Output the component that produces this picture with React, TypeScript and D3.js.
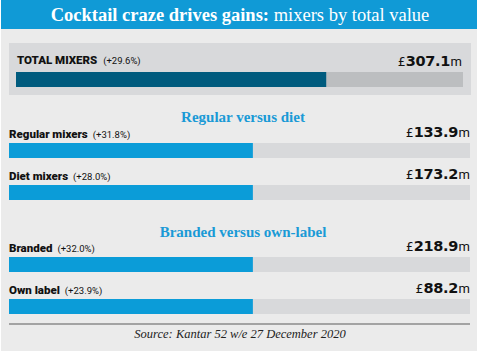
import React from "react";
import * as d3 from "d3";

const titleBold = "Cocktail craze drives gains:";
const titleRegular = "mixers by total value";

const totalLabel = "TOTAL MIXERS";
const totalChange = "+29.6%";
const totalValue = 307.1;
const totalFill = 69.4; // share of track filled (%)

const groupTitles = ["Regular versus diet", "Branded versus own-label"];
const rowGroup = [0, 0, 1, 1];
const rowLabels = ["Regular mixers", "Diet mixers", "Branded", "Own label"];
const rowChanges = ["+31.8%", "+28.0%", "+32.0%", "+23.9%"];
const rowValues = [133.9, 173.2, 218.9, 88.2];
const rowFill = [52.9, 52.9, 52.9, 52.9];

const sourceText = "Source: Kantar 52 w/e 27 December 2020";

const W = 480;
const H = 351;

const SANS = "Roboto, 'Liberation Sans', sans-serif";
const SERIF = "'Liberation Serif', serif";

function Value({ x, y, v }: { x: number; y: number; v: number }) {
  return (
    <text x={x} y={y} textAnchor="end" fill="#111">
      <tspan fontFamily="'DejaVu Sans', sans-serif" fontSize={12.5}>£</tspan>
      <tspan fontFamily="'DejaVu Sans', sans-serif" fontWeight="bold" fontSize={14.5} letterSpacing={-0.3}>
        {d3.format(".1f")(v)}
      </tspan>
      <tspan fontFamily={SANS} fontSize={13} dx={0.5}>m</tspan>
    </text>
  );
}

export default function App() {
  const xTotal = d3.scaleLinear().domain([0, 100]).range([16, 463]);
  const xRow = d3.scaleLinear().domain([0, 100]).range([9, 470]);
  const rowBase = [138, 180, 252, 294];
  const groupBase = [122, 237];

  return (
    <svg
      width={W}
      height={H}
      style={{ position: "absolute", left: 0, top: 0, display: "block" }}
    >
      <rect x={0} y={0} width={W} height={H} fill="#ffffff" />
      <rect x={1} y={0} width={476} height={H} fill="#ebebeb" />
      <rect x={1} y={0} width={476} height={29} fill="#109ad6" />
      <text x={240} y={21} textAnchor="middle" fill="#fff" fontFamily={SERIF} fontSize={18.5}>
        <tspan fontWeight="bold">{titleBold}</tspan>
        <tspan> {titleRegular}</tspan>
      </text>

      {/* total box */}
      <rect x={9} y={43} width={462} height={52} fill="#d8d9db" />
      <text x={17} y={64} fontFamily={SANS} fill="#111">
        <tspan fontWeight={900} fontSize={11.5}>{totalLabel}</tspan>
        <tspan fontSize={9.5} dx={6}>({totalChange})</tspan>
      </text>
      <Value x={462} y={66} v={totalValue} />
      <rect x={xTotal(0)} y={72} width={xTotal(100) - xTotal(0)} height={15} fill="#bcbec0" />
      <rect x={xTotal(0)} y={72} width={xTotal(totalFill) - xTotal(0)} height={15} fill="#005b7e" />

      {groupTitles.map((g, i) => (
        <text
          key={g}
          x={243}
          y={groupBase[i]}
          textAnchor="middle"
          fill="#1a9ad6"
          fontFamily={SERIF}
          fontWeight="bold"
          fontSize={15}
        >
          {g}
        </text>
      ))}

      {rowLabels.map((lab, i) => (
        <g key={lab} data-group={rowGroup[i]}>
          <text x={9} y={rowBase[i]} fontFamily={SANS} fill="#111">
            <tspan fontWeight={900} fontSize={11.5}>{lab}</tspan>
            <tspan fontSize={9.5} dx={5}>({rowChanges[i]})</tspan>
          </text>
          <Value x={470} y={rowBase[i] - 1} v={rowValues[i]} />
          <rect x={xRow(0)} y={rowBase[i] + 5} width={xRow(100) - xRow(0)} height={15} fill="#d8d9db" />
          <rect x={xRow(0)} y={rowBase[i] + 5} width={xRow(rowFill[i]) - xRow(0)} height={15} fill="#0b9cd8" />
        </g>
      ))}

      <rect x={9} y={323} width={461} height={2} fill="#a3a3a3" />
      <text
        x={240}
        y={338}
        textAnchor="middle"
        fill="#222"
        fontFamily={SERIF}
        fontStyle="italic"
        fontSize={12.5}
      >
        {sourceText}
      </text>
    </svg>
  );
}
